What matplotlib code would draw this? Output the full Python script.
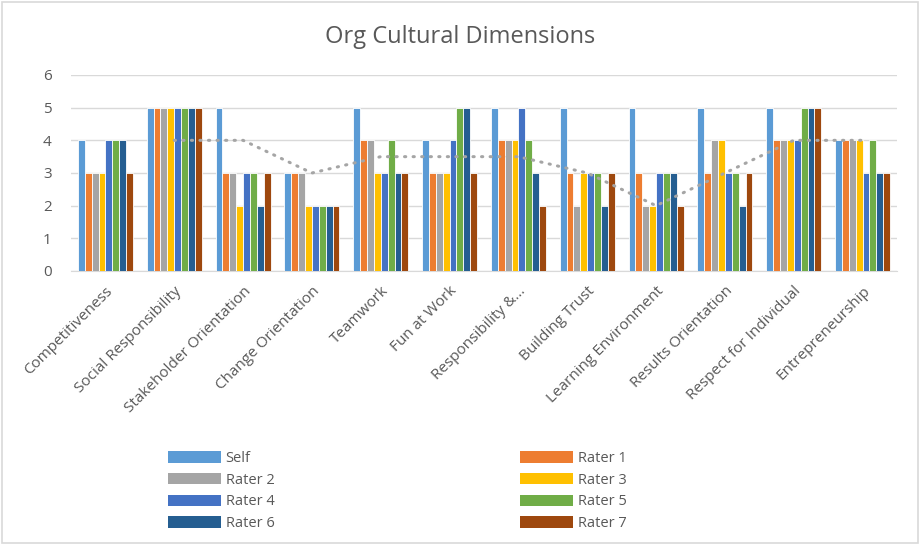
import numpy as np
import matplotlib.pyplot as plt
from matplotlib.patches import Rectangle, Patch

plt.rcParams['font.family'] = ['Open Sans', 'DejaVu Sans']

categories = ["Competitiveness", "Social Responsibility", "Stakeholder Orientation",
              "Change Orientation", "Teamwork", "Fun at Work", "Responsibility &...",
              "Building Trust", "Learning Environment", "Results Orientation",
              "Respect for Individual", "Entrepreneurship"]

series_names = ["Self", "Rater 1", "Rater 2", "Rater 3", "Rater 4", "Rater 5", "Rater 6", "Rater 7"]

self_vals = [4, 5, 5, 3, 5, 4, 5, 5, 5, 5, 5, 4]
rater1 = [3, 5, 3, 3, 4, 3, 4, 3, 3, 3, 4, 4]
rater2 = [3, 5, 3, 3, 4, 3, 4, 2, 2, 4, 4, 4]
rater3 = [3, 5, 2, 2, 3, 3, 4, 3, 2, 4, 4, 4]
rater4 = [4, 5, 3, 2, 3, 4, 5, 3, 3, 3, 4, 3]
rater5 = [4, 5, 3, 2, 4, 5, 4, 3, 3, 3, 5, 4]
rater6 = [4, 5, 2, 2, 3, 5, 3, 2, 3, 2, 5, 3]
rater7 = [3, 5, 3, 2, 3, 3, 2, 3, 2, 3, 5, 3]

all_series = [self_vals, rater1, rater2, rater3, rater4, rater5, rater6, rater7]
colors = ["#5B9BD5", "#ED7D31", "#A5A5A5", "#FFC000", "#4472C4", "#70AD47", "#255E91", "#9E480E"]

txt = "#595959"
grid_c = "#D9D9D9"

fig = plt.figure(figsize=(9.21, 5.46), dpi=100)
ax = fig.add_axes([71/921, 1-271/546, 826/921, 196/546])

x = np.arange(len(categories))
w = 0.8 / len(all_series)
for i, vals in enumerate(all_series):
    ax.bar(x - 0.4 + w*(i+0.5), vals, width=w, color=colors[i],
           edgecolor="white", linewidth=0.6, zorder=3)

# 2 period moving average trendline on Rater 2
r2 = np.array(rater2, dtype=float)
ma = (r2[1:] + r2[:-1]) / 2
ax.plot(x[1:], ma, color="#A5A5A5", linestyle=(0, (0.4, 2.4)), linewidth=2.2,
        dash_capstyle="round", zorder=4)

ax.set_xlim(-0.5, len(categories)-0.5)
ax.set_ylim(0, 6)
ax.set_yticks(range(7))
ax.yaxis.grid(True, color=grid_c, linewidth=1, zorder=0)
ax.set_axisbelow(True)
for s in ["top", "right", "left"]:
    ax.spines[s].set_visible(False)
ax.spines["bottom"].set_color(grid_c)
ax.tick_params(axis="both", length=0, colors=txt, labelsize=11)
ax.tick_params(axis="y", pad=14)
ax.set_xticks(x)
ax.set_xticklabels(categories, rotation=45, ha="right", rotation_mode="anchor")
ax.tick_params(axis="x", pad=9)

fig.text(0.5, 1-37/546, "Org Cultural Dimensions", ha="center", va="center",
         fontsize=17, color=txt)

left_idx = [0, 2, 4, 6]
right_idx = [1, 3, 5, 7]
for idx, xpos in [(left_idx, 168), (right_idx, 520)]:
    handles = [Patch(facecolor=colors[i], edgecolor="none") for i in idx]
    labels = [series_names[i] for i in idx]
    fig.legend(handles, labels, loc="upper left",
               bbox_to_anchor=(xpos/921, 1-451/546), frameon=False,
               fontsize=10.5, labelcolor=txt, handlelength=3.6, handleheight=0.8,
               handletextpad=0.35, labelspacing=0.46, borderpad=0, borderaxespad=0)

fig.patches.append(Rectangle((2/921, 3/546), 916/921, 541/546, transform=fig.transFigure,
                             fill=False, edgecolor=grid_c, linewidth=1.2))

fig.savefig("out.png", dpi=100)
